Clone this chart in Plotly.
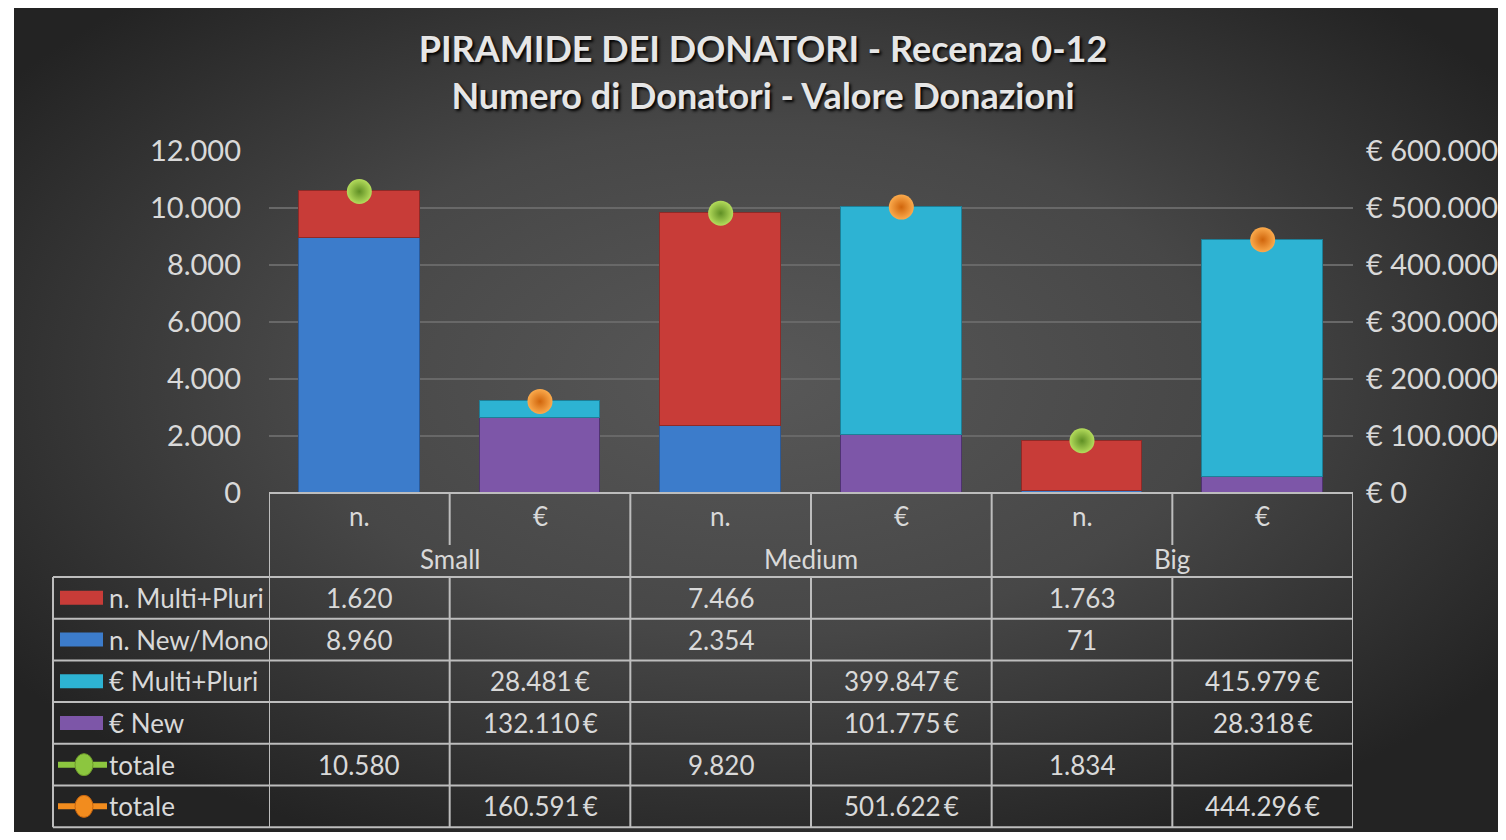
import base64
import plotly.graph_objects as go

# ---------------- data ----------------
groups = ["Small", "Medium", "Big"]
subcats = ["n.", "€"]
n_multi = [1620, 7466, 1763]
n_new = [8960, 2354, 71]
eur_multi = [28481, 399847, 415979]
eur_new = [132110, 101775, 28318]
tot_n = [10580, 9820, 1834]
tot_eur = [160591, 501622, 444296]
left_ticks = [0, 2000, 4000, 6000, 8000, 10000, 12000]
right_ticks = [0, 100000, 200000, 300000, 400000, 500000, 600000]
series_names = ["n. Multi+Pluri", "n. New/Mono", "€ Multi+Pluri", "€ New", "totale", "totale"]

# figure is sized so that with the page's 8px body margin it fills the 1506x840 window
FW, FH = 1490, 824
OFF = 8
FONT = "Lato"
TXT = "#d9d9d9"

C_RED, C_BLUE, C_CYAN, C_PURPLE = "#C83C38", "#3C7CCB", "#2DB3D3", "#7D56A8"
C_GREEN, C_ORANGE = "#8CC63F", "#F28C1E"


def px(x):
    return (x - OFF) / FW


def py(y):
    return 1 - (y - OFF) / FH


def fmt_n(v):
    return f"{v:,}".replace(",", ".")


def fmt_e(v):
    return fmt_n(v) + "\u2009€"


x_n = [2 * i for i in range(len(groups))]
x_e = [2 * i + 1 for i in range(len(groups))]

fig = go.Figure()
fig.add_trace(go.Bar(x=x_n, y=n_new, name=series_names[1], marker=dict(color=C_BLUE, line=dict(color="#2a5a9a", width=1)), width=0.667, yaxis="y"))
fig.add_trace(go.Bar(x=x_n, y=n_multi, name=series_names[0], marker=dict(color=C_RED, line=dict(color="#8e2a27", width=1)), width=0.667, yaxis="y"))
fig.add_trace(go.Bar(x=x_e, y=eur_new, name=series_names[3], marker=dict(color=C_PURPLE, line=dict(color="#4f3370", width=1)), width=0.667, yaxis="y2"))
fig.add_trace(go.Bar(x=x_e, y=eur_multi, name=series_names[2], marker=dict(color=C_CYAN, line=dict(color="#1d7f97", width=1)), width=0.667, yaxis="y2"))
fig.add_trace(go.Scatter(x=x_n, y=tot_n, mode="markers", name=series_names[4], yaxis="y",
                         marker=dict(size=25, color="#B4DC5C", gradient=dict(type="radial", color="#5F8F24"), line=dict(width=0))))
fig.add_trace(go.Scatter(x=x_e, y=tot_eur, mode="markers", name=series_names[5], yaxis="y2",
                         marker=dict(size=25, color="#FBAA4C", gradient=dict(type="radial", color="#D0650C"), line=dict(width=0))))

# ---------------- background (radial gradient) ----------------
svg = """<svg xmlns='http://www.w3.org/2000/svg' width='1500' height='840' viewBox='0 0 1500 840' preserveAspectRatio='none'>
<defs><radialGradient id='g' cx='50%' cy='45%' r='62%'>
<stop offset='0' stop-color='#585858'/><stop offset='0.5' stop-color='#474747'/><stop offset='1' stop-color='#232323'/>
</radialGradient></defs><rect width='1500' height='840' fill='url(#g)'/></svg>"""
src = "data:image/svg+xml;base64," + base64.b64encode(svg.encode()).decode()

shapes = []
annotations = []
LINE = dict(color="#bdbdbd", width=2)

# table geometry (reference pixels)
T_TOP, T_HDR, T_GRP = 493, 545, 577
ROW_H = 41.7
n_rows = 6
T_BOT = T_GRP + ROW_H * n_rows
LEG_L = 53
TFS = 26

# horizontal lines
shapes.append(dict(type="line", xref="x", yref="paper", x0=-0.5, x1=5.5, y0=py(T_TOP), y1=py(T_TOP), line=LINE))
for r in range(n_rows + 1):
    yy = T_GRP + r * ROW_H
    shapes.append(dict(type="line", xref="paper", yref="paper", x0=px(LEG_L), x1=px(269), y0=py(yy), y1=py(yy), line=LINE))
    shapes.append(dict(type="line", xref="x", yref="paper", x0=-0.5, x1=5.5, y0=py(yy), y1=py(yy), line=LINE))
# vertical lines
shapes.append(dict(type="line", xref="paper", yref="paper", x0=px(LEG_L), x1=px(LEG_L), y0=py(T_GRP), y1=py(T_BOT), line=LINE))
for k in range(len(groups) * 2 + 1):
    xb = k - 0.5
    if k % 2 == 0:
        shapes.append(dict(type="line", xref="x", yref="paper", x0=xb, x1=xb, y0=py(T_TOP), y1=py(T_BOT), line=LINE))
    else:
        shapes.append(dict(type="line", xref="x", yref="paper", x0=xb, x1=xb, y0=py(T_TOP), y1=py(T_HDR), line=LINE))
        shapes.append(dict(type="line", xref="x", yref="paper", x0=xb, x1=xb, y0=py(T_GRP), y1=py(T_BOT), line=LINE))

# header text
for i, g in enumerate(groups):
    for j, s in enumerate(subcats):
        annotations.append(dict(x=2 * i + j, y=py(516), xref="x", yref="paper", text=s, showarrow=False,
                                xanchor="center", yanchor="middle", font=dict(family=FONT, size=TFS, color=TXT)))
    annotations.append(dict(x=2 * i + 0.5, y=py(559), xref="x", yref="paper", text=g, showarrow=False,
                            xanchor="center", yanchor="middle", font=dict(family=FONT, size=TFS, color=TXT)))

# table rows
row_data = [
    (x_n, [fmt_n(v) for v in n_multi]),
    (x_n, [fmt_n(v) for v in n_new]),
    (x_e, [fmt_e(v) for v in eur_multi]),
    (x_e, [fmt_e(v) for v in eur_new]),
    (x_n, [fmt_n(v) for v in tot_n]),
    (x_e, [fmt_e(v) for v in tot_eur]),
]
for r, (xs, texts) in enumerate(row_data):
    yc = T_GRP + r * ROW_H + ROW_H / 2
    for xv, t in zip(xs, texts):
        annotations.append(dict(x=xv, y=py(yc), xref="x", yref="paper", text=t, showarrow=False,
                                xanchor="center", yanchor="middle", font=dict(family=FONT, size=TFS, color=TXT)))
    annotations.append(dict(x=px(107), y=py(yc), xref="paper", yref="paper", text=series_names[r], showarrow=False,
                            xanchor="left", yanchor="middle", font=dict(family=FONT, size=TFS, color=TXT)))

# legend keys
sw_cols = [C_RED, C_BLUE, C_CYAN, C_PURPLE]
for r, c in enumerate(sw_cols):
    yc = T_GRP + r * ROW_H + ROW_H / 2
    shapes.append(dict(type="rect", xref="paper", yref="paper", x0=px(60), x1=px(103), y0=py(yc + 7), y1=py(yc - 7),
                       fillcolor=c, line=dict(width=0)))
for r, (c, cdark) in zip([4, 5], [(C_GREEN, "#6E9A2A"), (C_ORANGE, "#C9650E")]):
    yc = T_GRP + r * ROW_H + ROW_H / 2
    shapes.append(dict(type="line", xref="paper", yref="paper", x0=px(58), x1=px(107), y0=py(yc), y1=py(yc),
                       line=dict(color=c, width=6)))
    shapes.append(dict(type="circle", xref="paper", yref="paper", x0=px(75), x1=px(93), y0=py(yc + 11), y1=py(yc - 11),
                       fillcolor=c, line=dict(color=cdark, width=1)))

fig.update_layout(
    template="none",
    width=FW, height=FH,
    margin=dict(l=0, r=0, t=0, b=0, pad=0),
    paper_bgcolor="white",
    plot_bgcolor="rgba(0,0,0,0)",
    barmode="stack",
    bargap=0,
    showlegend=False,
    separators=",.",
    title=dict(text="PIRAMIDE DEI DONATORI - Recenza 0-12<br>Numero di Donatori - Valore Donazioni",
               x=px(763), xanchor="center", y=py(62), yanchor="middle",
               font=dict(family=FONT, size=36, color="#e6e6e6", weight="bold", shadow="2px 2px 3px #000")),
    xaxis=dict(domain=[px(269), px(1353)], range=[-0.5, 5.5], showticklabels=False, showgrid=False,
               zeroline=False, showline=False, fixedrange=True, automargin=False, ticks=""),
    yaxis=dict(domain=[py(493), py(151)], range=[0, 12000], tickmode="array", tickvals=left_ticks,
               ticktext=[fmt_n(v) for v in left_ticks], ticks="",
               gridcolor="#686868", gridwidth=1.5, zeroline=False, showline=False, automargin=False,
               tickfont=dict(family=FONT, size=29, color=TXT), ticklabelstandoff=27),
    yaxis2=dict(overlaying="y", side="right", range=[0, 600000], tickmode="array", tickvals=right_ticks,
                ticktext=["€ " + fmt_n(v) for v in right_ticks], ticks="",
                showgrid=False, zeroline=False, showline=False, automargin=False,
                tickfont=dict(family=FONT, size=29, color=TXT), ticklabelstandoff=12),
    shapes=shapes,
    annotations=annotations,
    images=[dict(source=src, xref="paper", yref="paper", x=px(14), y=1, sizex=1 - px(14), sizey=1,
                 xanchor="left", yanchor="top", sizing="stretch", layer="below")],
)

fig.write_html("out.html")
